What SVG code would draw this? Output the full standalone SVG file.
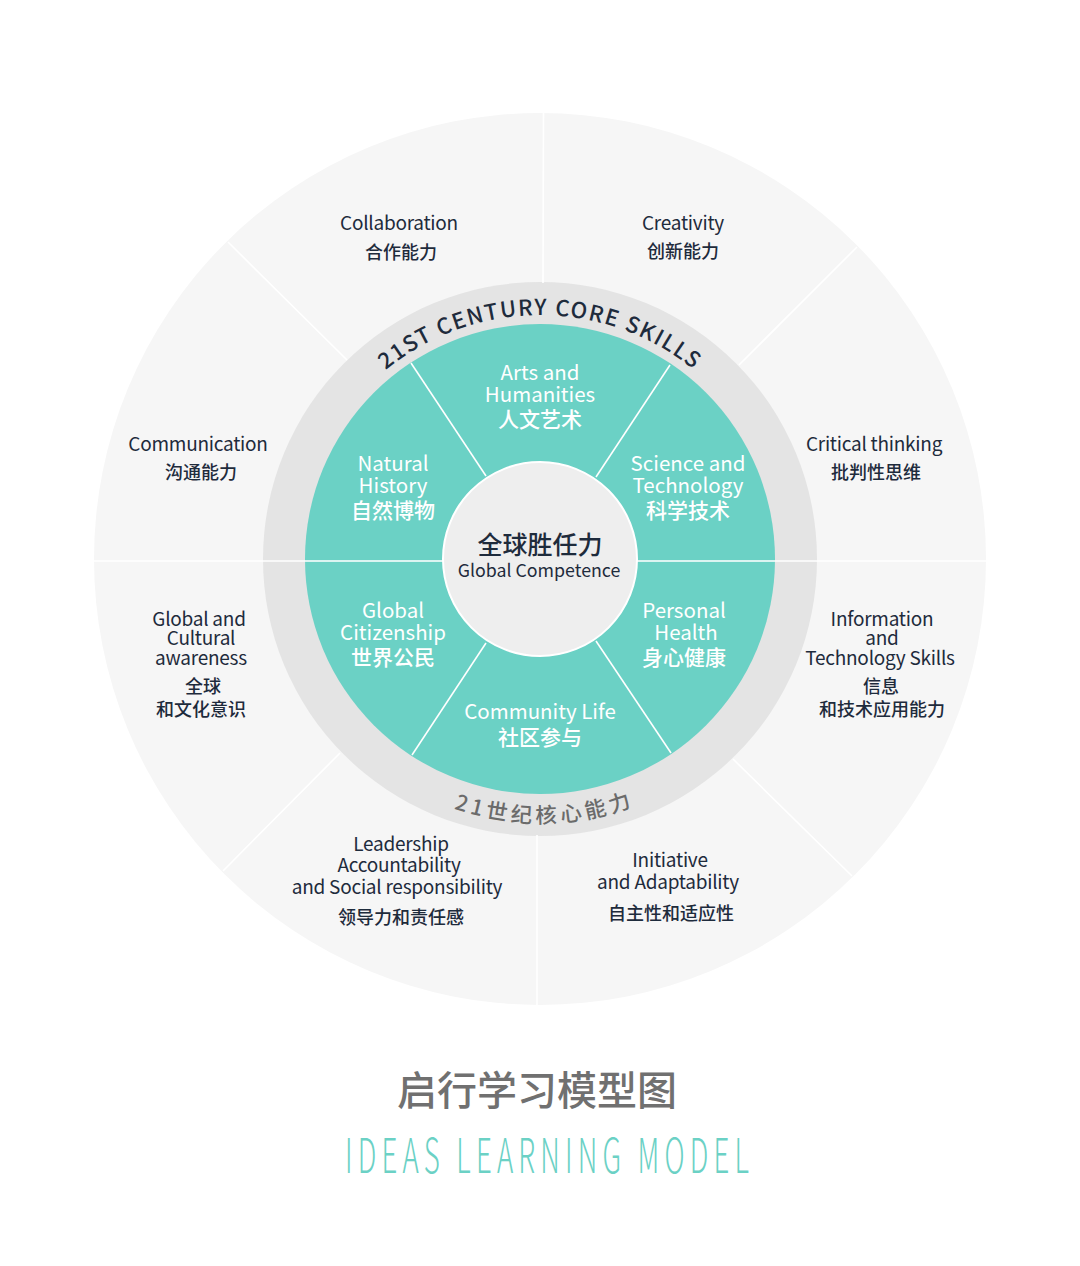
<svg xmlns="http://www.w3.org/2000/svg" width="1080" height="1266" viewBox="0 0 1080 1266">
  <defs>
    <style>
      .f { font-family: "Noto Sans CJK SC", "Noto Sans", sans-serif; }
      .dk { fill: #1e2b3c; text-anchor: middle; }
      .en { font-size: 19px; font-weight: 400; letter-spacing: -0.25px; }
      .cn { font-size: 18px; font-weight: 500; }
      .wt { fill: #ffffff; text-anchor: middle; }
      .ten { font-size: 20.5px; font-weight: 400; }
      .tcn { font-size: 21px; font-weight: 500; }
      .div { stroke: #ffffff; stroke-width: 1.6; fill: none; }
    </style>
    <path id="topArc" d="M 296,559 A 244 244 0 0 1 784,559"/>
    <path id="botArc" d="M 276,559 A 264 264 0 0 0 804,559"/>
  </defs>
  <rect width="1080" height="1266" fill="#ffffff"/>

  <g id="rings">
    <circle cx="540" cy="559" r="446" fill="#f6f6f6"/>
    <circle cx="540" cy="559" r="277" fill="#e4e4e4"/>
    <circle cx="540" cy="559" r="235" fill="#6bd1c5"/>
  </g>

  <g id="connectors">
    <line class="div" x1="543.5" y1="113" x2="543" y2="283"/>
    <line class="div" x1="537" y1="835" x2="537" y2="1005"/>
    <line class="div" x1="94" y1="561" x2="445" y2="561"/>
    <line class="div" x1="635" y1="561" x2="986" y2="561"/>
    <line class="div" x1="228" y1="242" x2="347" y2="360"/>
    <line class="div" x1="857" y1="247" x2="739" y2="365"/>
    <line class="div" x1="223" y1="871" x2="340" y2="753"/>
    <line class="div" x1="733" y1="759" x2="852" y2="876"/>
    <line class="div" x1="411" y1="363" x2="486" y2="476"/>
    <line class="div" x1="670" y1="365" x2="596" y2="477"/>
    <line class="div" x1="412" y1="755" x2="486" y2="643"/>
    <line class="div" x1="671" y1="753" x2="596" y2="641"/>
  </g>

  <g id="center">
    <circle cx="540" cy="559" r="97" fill="#eeeeee" stroke="#ffffff" stroke-width="2"/>
    <text class="f dk" x="540" y="554" font-size="25" font-weight="500">全球胜任力</text>
    <text class="f dk" x="539" y="577" font-size="17.8">Global Competence</text>
  </g>

  <g id="ring-labels">
    <text class="f" fill="#1e2b3c" font-size="22" font-weight="500" letter-spacing="1.6"><textPath href="#topArc" startOffset="50%" text-anchor="middle">21ST CENTURY CORE SKILLS</textPath></text>
    <text class="f" fill="#6b6b6b" font-size="21.5" font-weight="500" letter-spacing="4"><textPath href="#botArc" startOffset="50.6%" text-anchor="middle">21世纪核心能力</textPath></text>
  </g>

  <g id="arts">
    <text class="f wt ten" x="540" y="380">Arts and</text>
    <text class="f wt ten" x="540" y="402">Humanities</text>
    <text class="f wt tcn" x="540" y="427">人文艺术</text>
  </g>
  <g id="natural">
    <text class="f wt ten" x="393" y="471">Natural</text>
    <text class="f wt ten" x="393" y="493">History</text>
    <text class="f wt tcn" x="393" y="518">自然博物</text>
  </g>
  <g id="science">
    <text class="f wt ten" x="688" y="471">Science and</text>
    <text class="f wt ten" x="688" y="493">Technology</text>
    <text class="f wt tcn" x="688" y="518">科学技术</text>
  </g>
  <g id="citizenship">
    <text class="f wt ten" x="393" y="618">Global</text>
    <text class="f wt ten" x="393" y="640">Citizenship</text>
    <text class="f wt tcn" x="393" y="665">世界公民</text>
  </g>
  <g id="health">
    <text class="f wt ten" x="684" y="618">Personal</text>
    <text class="f wt ten" x="686" y="640">Health</text>
    <text class="f wt tcn" x="684" y="665">身心健康</text>
  </g>
  <g id="community">
    <text class="f wt ten" x="540" y="719">Community Life</text>
    <text class="f wt tcn" x="540" y="745">社区参与</text>
  </g>

  <g id="collaboration">
    <text class="f dk en" x="399" y="230">Collaboration</text>
    <text class="f dk cn" x="401" y="259">合作能力</text>
  </g>
  <g id="creativity">
    <text class="f dk en" x="683" y="230">Creativity</text>
    <text class="f dk cn" x="683" y="258">创新能力</text>
  </g>
  <g id="communication">
    <text class="f dk en" x="198" y="451">Communication</text>
    <text class="f dk cn" x="201" y="479">沟通能力</text>
  </g>
  <g id="critical">
    <text class="f dk en" x="874" y="451">Critical thinking</text>
    <text class="f dk cn" x="876" y="479">批判性思维</text>
  </g>
  <g id="global-awareness">
    <text class="f dk en" x="199" y="626">Global and</text>
    <text class="f dk en" x="201" y="645">Cultural</text>
    <text class="f dk en" x="201" y="665">awareness</text>
    <text class="f dk cn" x="203" y="693">全球</text>
    <text class="f dk cn" x="201" y="716">和文化意识</text>
  </g>
  <g id="info-tech">
    <text class="f dk en" x="882" y="626">Information</text>
    <text class="f dk en" x="882" y="645">and</text>
    <text class="f dk en" x="880" y="665">Technology Skills</text>
    <text class="f dk cn" x="881" y="693">信息</text>
    <text class="f dk cn" x="882" y="716">和技术应用能力</text>
  </g>
  <g id="leadership">
    <text class="f dk en" x="401" y="851">Leadership</text>
    <text class="f dk en" x="399" y="872">Accountability</text>
    <text class="f dk en" x="397" y="894">and Social responsibility</text>
    <text class="f dk cn" x="401" y="924">领导力和责任感</text>
  </g>
  <g id="initiative">
    <text class="f dk en" x="670" y="867">Initiative</text>
    <text class="f dk en" x="668" y="889">and Adaptability</text>
    <text class="f dk cn" x="671" y="920">自主性和适应性</text>
  </g>

  <g id="title">
    <text class="f" x="537" y="1105" font-size="40" font-weight="500" fill="#707070" text-anchor="middle">启行学习模型图</text>
    <text class="f" x="345" y="1173" font-size="48" font-weight="300" fill="#6bd1c5" letter-spacing="9" textLength="409" lengthAdjust="spacingAndGlyphs">IDEAS LEARNING MODEL</text>
  </g>
</svg>
